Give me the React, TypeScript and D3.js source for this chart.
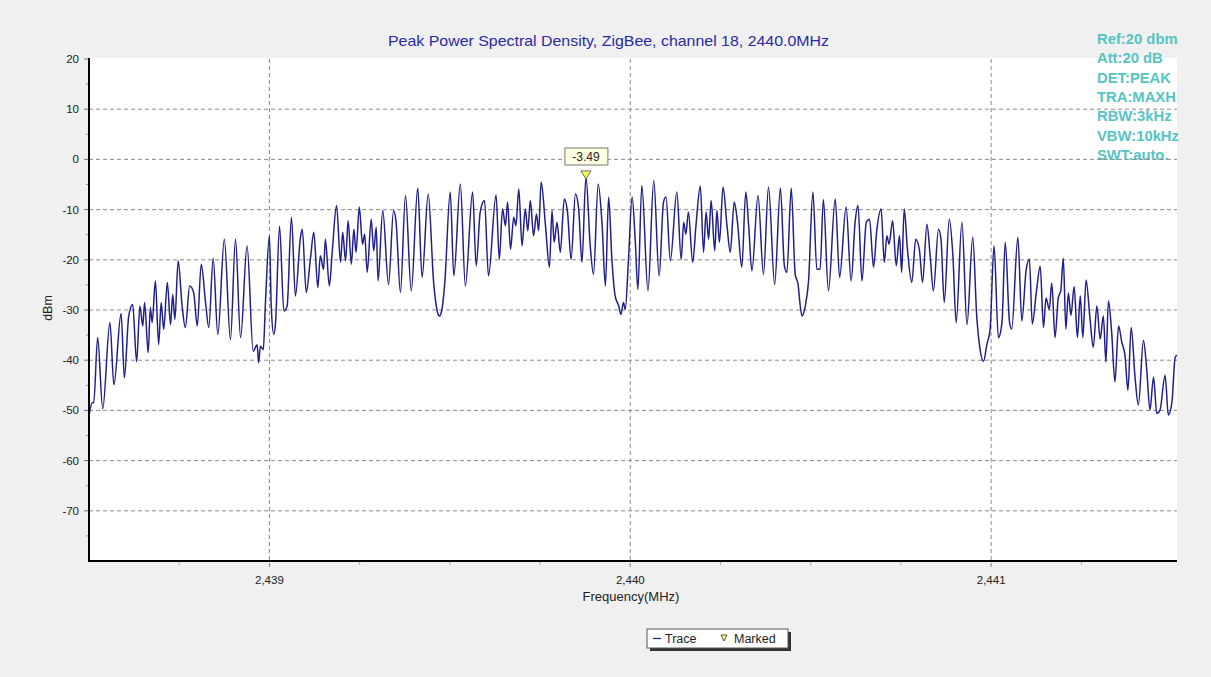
import React from "react";
import * as d3 from "d3";

// ---- data ----
const centerMHz = 2440.0;
const freqOffsetKHz = [
  -1500, -1491, -1487, -1476, -1462, -1442, -1431, -1411, -1402, -1390, -1379, -1368, -1359, -1351, -1346, -1336, -1330, -1325, -1316, -1307,
  -1300, -1293, -1283, -1274, -1268, -1262, -1253, -1242, -1233, -1221, -1210, -1200, -1189, -1177, -1168, -1156, -1143, -1125, -1108, -1094,
  -1080, -1062, -1045, -1034, -1030, -1025, -1017, -1011, -1000, -995, -988, -983, -972, -960, -951, -939, -928, -914, -909, -898,
  -886, -877, -866, -859, -850, -845, -834, -826, -814, -803, -797, -789, -782, -773, -766, -760, -751, -742, -736, -729,
  -718, -711, -704, -699, -686, -670, -656, -649, -637, -623, -607, -589, -577, -560, -545, -535, -529, -522, -514, -499,
  -489, -471, -457, -437, -427, -416, -404, -393, -372, -363, -354, -346, -340, -332, -323, -317, -309, -300, -291, -284,
  -277, -268, -260, -254, -247, -235, -224, -217, -211, -203, -194, -183, -174, -164, -152, -143, -134, -123, -111, -102,
  -89, -78, -69, -60, -51, -42, -32, -26, -19, -14, -5, 5, 14, 21, 32, 49, 65, 80, 92, 99,
  111, 129, 141, 148, 154, 161, 173, 182, 194, 203, 210, 217, 224, 234, 240, 247, 257, 268, 277, 288,
  297, 309, 320, 328, 337, 354, 369, 383, 400, 416, 427, 434, 446, 457, 465, 471, 476, 485, 494, 506,
  517, 526, 535, 549, 568, 580, 598, 612, 623, 631, 642, 654, 663, 674, 683, 695, 704, 711, 717, 727,
  737, 746, 752, 759, 768, 780, 791, 801, 810, 822, 831, 840, 854, 861, 870, 884, 894, 903, 919, 933,
  949, 960, 968, 979, 988, 997, 1008, 1020, 1030, 1039, 1051, 1057, 1074, 1085, 1097, 1106, 1114, 1125, 1136, 1145,
  1152, 1161, 1168, 1177, 1186, 1193, 1200, 1207, 1214, 1221, 1230, 1239, 1247, 1254, 1263, 1274, 1283, 1293, 1302, 1311,
  1318, 1325, 1334, 1343, 1353, 1362, 1371, 1379, 1388, 1399, 1408, 1422, 1431, 1440, 1450, 1459, 1468, 1482, 1491, 1501,
  1510, 1515,
];
const traceDBm = [
  -51, -48.5, -48.5, -35.5, -49.7, -32.5, -44.9, -30.7, -43.5, -31.2, -28.9, -40.3, -29.2, -33.2, -28.5, -38.5, -29.5, -32.5, -24.2, -36.9,
  -28.5, -33.9, -24.5, -32.9, -26.9, -31.9, -20.2, -29.2, -33.5, -25.2, -26.5, -33.2, -20.9, -28.5, -33.5, -19.7, -34.9, -15.9, -35.9, -15.9,
  -35.5, -17.2, -38.2, -36.9, -40.5, -37.2, -37.9, -28.5, -15.2, -29.2, -34.9, -32.5, -13.3, -30.2, -29.2, -11.5, -27.2, -15.5, -13.9, -26.5,
  -19.5, -14.5, -25.5, -19.2, -21.9, -15.9, -25.2, -18.5, -9.2, -20.5, -14.5, -20.2, -12.2, -20.9, -13.9, -18.5, -9.5, -16.9, -14.9, -22.5,
  -11.9, -18.2, -13.5, -24.2, -10.2, -24.9, -10.2, -12.5, -26.5, -7.2, -26.2, -5.7, -23.5, -6.9, -24.5, -30.2, -31.2, -29.9, -24.5, -6.5,
  -23.2, -4.9, -25.2, -6.5, -21.2, -10.5, -8.2, -23.2, -7.1, -19.9, -9.9, -13.2, -8.5, -17.9, -11.5, -13.2, -5.9, -17.2, -9.9, -14.2,
  -8.2, -15.2, -10.9, -14.2, -4.5, -13.2, -21.5, -10.2, -16.5, -12.5, -18.5, -7.9, -10.5, -19.9, -6.9, -9.9, -20.5, -3.49, -17.2, -22.9,
  -4.9, -13.2, -25.2, -7.5, -19.9, -27.2, -29.2, -30.9, -28.5, -29.9, -19.9, -7.5, -16.5, -25.9, -5.2, -26.2, -4.2, -23.2, -8.5, -7.5,
  -20.2, -6.5, -19.9, -12.5, -14.9, -10.5, -20.5, -13.2, -5.3, -18.5, -10.5, -15.9, -8.2, -18.2, -10.2, -16.5, -5.5, -13.2, -18.5, -8.5,
  -12.5, -21.5, -6.5, -13.2, -22.2, -7.2, -22.9, -5.5, -24.9, -5.7, -21.2, -22.5, -5.7, -22.9, -24.9, -29.2, -31.2, -29.2, -24.2, -6.5,
  -21.9, -21.9, -8, -26.2, -7.9, -23.5, -9.5, -24.2, -12.5, -9.2, -24.2, -12.5, -11.9, -21.5, -14.2, -9.9, -20.5, -15.2, -16.9, -12.2,
  -21.2, -15.2, -22.5, -9.9, -17.9, -24.5, -15.9, -17.9, -24.5, -12.9, -19.2, -26.2, -13.9, -15.9, -28.5, -11.9, -19.2, -32.5, -12.5, -32.9,
  -15.5, -31.2, -37.2, -40.2, -36.9, -33.9, -17.2, -35.5, -32.5, -16.5, -32.5, -33.8, -15.5, -32.2, -22, -19.9, -32.8, -26.6, -21.3, -33.5,
  -27.6, -29.9, -24.6, -35.5, -27.6, -26.1, -19.7, -33.8, -26.6, -31.1, -25.3, -35.5, -27.2, -35.5, -24, -31.8, -37.4, -29.2, -35.8, -31.2,
  -40.4, -28.2, -34.5, -44.3, -33.2, -36.4, -39.1, -46, -33.5, -43.7, -48.9, -36.1, -41.7, -49.9, -43.4, -50.6, -49.9, -43, -50.9, -48.3,
  -39.4, -39,
];
const markerValue = -3.49;
const markerOffsetKHz = -123;
const yTicks = [20, 10, 0, -10, -20, -30, -40, -50, -60, -70];
const xMajorTicks = [2439, 2440, 2441];
const xMinorTicks = [2438.75, 2439.25, 2439.5, 2439.75, 2440.25, 2440.5, 2440.75, 2441.25];
const title = "Peak Power Spectral Density, ZigBee, channel 18, 2440.0MHz";
const settings = ["Ref:20 dbm", "Att:20 dB", "DET:PEAK", "TRA:MAXH", "RBW:3kHz", "VBW:10kHz", "SWT:auto."];
const xDomain = [2438.5, 2441.515];
const yDomain = [-80, 20];

const W = 1211;
const H = 677;
const FONT = "'Liberation Sans', Arial, sans-serif";

export default function App() {
  const left = 89, right = 1177, top = 59, bottom = 561;
  const x = d3.scaleLinear().domain(xDomain).range([left, right]);
  const y = d3.scaleLinear().domain(yDomain).range([bottom, top]);
  const pts: [number, number][] = freqOffsetKHz.map((k, i) => [centerMHz + k / 1000, traceDBm[i]]);
  const line = d3
    .line<[number, number]>()
    .x((d) => x(d[0]))
    .y((d) => y(d[1]))
    .curve(d3.curveMonotoneX);
  const fmt = d3.format(",");
  const mx = x(centerMHz + markerOffsetKHz / 1000);
  const my = y(markerValue);

  return (
    <svg width={W} height={H} style={{ position: "absolute", left: 0, top: 0, background: "#f0f0f0" }} fontFamily={FONT}>
      <rect x={0} y={0} width={W} height={H} fill="#f0f0f0" />
      <rect x={left} y={top - 1} width={right - left} height={bottom - top + 1} fill="#ffffff" />
      {/* settings text */}
      {settings.map((s, i) => (
        <text key={s} x={1097} y={44 + i * 19.3} fill="#56c4c4" fontSize={14.8} fontWeight="bold">
          {s}
        </text>
      ))}
      {/* horizontal grid */}
      {yTicks
        .filter((t) => t < 20)
        .map((t) => (
          <line key={"gy" + t} x1={left} x2={right} y1={y(t)} y2={y(t)} stroke="#8a8a8a" strokeDasharray="4,3" strokeWidth={1} />
        ))}
      {/* vertical grid */}
      {xMajorTicks.map((t) => (
        <line key={"gx" + t} x1={x(t)} x2={x(t)} y1={top} y2={bottom + 6} stroke="#8a8a8a" strokeDasharray="4,3" strokeWidth={1} />
      ))}
      {/* minor x ticks */}
      {xMinorTicks.map((t) => (
        <line key={"mx" + t} x1={x(t)} x2={x(t)} y1={bottom} y2={bottom + 4} stroke="#aaaaaa" strokeWidth={1} />
      ))}
      {/* y ticks */}
      {yTicks.map((t) => (
        <g key={"yt" + t}>
          <line x1={left - 5} x2={left} y1={y(t)} y2={y(t)} stroke="#777" strokeWidth={1} />
          <text x={79} y={y(t) + 4} textAnchor="end" fontSize={11.5} fill="#222">
            {t}
          </text>
        </g>
      ))}
      {yTicks.slice(1).map((t) => (
        <line key={"ymt" + t} x1={left - 3} x2={left} y1={y(t + 5)} y2={y(t + 5)} stroke="#999" strokeWidth={1} />
      ))}
      <line x1={left - 3} x2={left} y1={y(-75)} y2={y(-75)} stroke="#999" strokeWidth={1} />
      {xMajorTicks.map((t) => (
        <text key={"xt" + t} x={x(t)} y={584} textAnchor="middle" fontSize={11.5} fill="#222">
          {fmt(t)}
        </text>
      ))}
      {/* trace */}
      <path d={line(pts) || ""} fill="none" stroke="#20208c" strokeWidth={1.5} strokeLinejoin="round" />
      {/* axes */}
      <line x1={left} x2={left} y1={top - 1} y2={bottom + 1} stroke="#000" strokeWidth={2} />
      <line x1={left - 1} x2={right} y1={bottom} y2={bottom} stroke="#000" strokeWidth={2} />
      {/* title & labels */}
      <text x={608.5} y={46} textAnchor="middle" fontSize={14.5} fill="#2a2aa8" textLength={441} lengthAdjust="spacingAndGlyphs">
        {title}
      </text>
      <text x={631} y={601} textAnchor="middle" fontSize={13} fill="#222">
        Frequency(MHz)
      </text>
      <text transform={`translate(52,308) rotate(-90)`} textAnchor="middle" fontSize={12.5} fill="#222">
        dBm
      </text>
      {/* marker */}
      <rect x={mx - 21} y={148} width={43} height={17} fill="#ffffe1" stroke="#777" strokeWidth={1} />
      <text x={mx} y={161} textAnchor="middle" fontSize={12} fill="#222">
        {markerValue.toFixed(2)}
      </text>
      <path d={`M${mx - 5},${my - 6} L${mx + 5},${my - 6} L${mx},${my + 2} Z`} fill="#ffff66" stroke="#666" strokeWidth={1} />
      {/* legend */}
      <rect x={650} y={632} width={141} height={19} fill="#333" />
      <rect x={647} y={629} width={141} height={19} fill="#fff" stroke="#555" strokeWidth={1} />
      <line x1={653} x2={661} y1={638.5} y2={638.5} stroke="#20208c" strokeWidth={1.2} />
      <text x={665} y={643} fontSize={12.5} fill="#222">
        Trace
      </text>
      <path d="M721,635 L727,635 L724,641 Z" fill="#ffff66" stroke="#555" strokeWidth={1} />
      <text x={734} y={643} fontSize={12.5} fill="#222">
        Marked
      </text>
    </svg>
  );
}
